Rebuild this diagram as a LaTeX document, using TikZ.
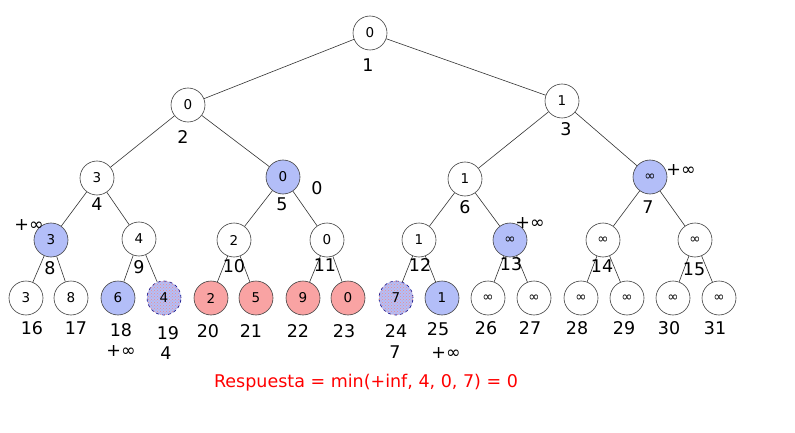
\documentclass[tikz,border=0pt]{standalone}
\usepackage{fontspec}
\setmainfont{DejaVu Sans}
\usetikzlibrary{patterns}
\definecolor{nblue}{HTML}{B3BEF8}
\definecolor{nred}{HTML}{F9A3A3}
\definecolor{npink}{HTML}{EE8C8C}
\tikzset{
  nd/.style={circle,draw=black!75,line width=0.6pt,minimum size=34pt,inner sep=0pt,font=\fontsize{13.5}{13.5}\selectfont},
  bl/.style={nd,fill=nblue},
  rd/.style={nd,fill=nred},
  mx/.style={nd,draw=blue!50!black,dashed,fill=nblue,postaction={pattern=crosshatch dots,pattern color=npink}},
  lab/.style={font=\fontsize{17.5}{17.5}\selectfont,inner sep=0pt},
  ed/.style={draw=black!80,line width=0.6pt}
}
\begin{document}
\begin{tikzpicture}[x=1pt,y=-1pt]
\useasboundingbox (0,0) rectangle (795,433);
\fill[white] (0,0) rectangle (795,433);
\node[nd] (n1) at (370,33) {0};
\node[nd] (n2) at (188,105) {0};
\node[nd] (n3) at (562,101) {1};
\node[nd] (n4) at (97,178) {3};
\node[bl] (n5) at (283,177) {0};
\node[nd] (n6) at (465,179) {1};
\node[bl] (n7) at (650,177) {∞};
\node[bl] (n8) at (51,240) {3};
\node[nd] (n9) at (139,239) {4};
\node[nd] (n10) at (234,240) {2};
\node[nd] (n11) at (327,240) {0};
\node[nd] (n12) at (419,240) {1};
\node[bl] (n13) at (510,240) {∞};
\node[nd] (n14) at (603,240) {∞};
\node[nd] (n15) at (695,240) {∞};
\node[nd] (n16) at (26,298) {3};
\node[nd] (n17) at (71,298) {8};
\node[bl] (n18) at (118,298) {6};
\node[mx] (n19) at (164,298) {4};
\node[rd] (n20) at (211,298) {2};
\node[rd] (n21) at (256,298) {5};
\node[rd] (n22) at (303,298) {9};
\node[rd] (n23) at (348,298) {0};
\node[mx] (n24) at (396,298) {7};
\node[bl] (n25) at (442,298) {1};
\node[nd] (n26) at (488,298) {∞};
\node[nd] (n27) at (534,298) {∞};
\node[nd] (n28) at (581,298) {∞};
\node[nd] (n29) at (627,298) {∞};
\node[nd] (n30) at (673,298) {∞};
\node[nd] (n31) at (719,298) {∞};
\foreach \p/\a/\b in {1/2/3,2/4/5,3/6/7,4/8/9,5/10/11,6/12/13,7/14/15,8/16/17,9/18/19,10/20/21,11/22/23,12/24/25,13/26/27,14/28/29,15/30/31}{
  \draw[ed] (n\p) -- (n\a);
  \draw[ed] (n\p) -- (n\b);
}
\foreach \i/\x/\y in {1/368/65,2/183/137,3/566/129,4/97/204,5/282/204,6/465/207,7/648/207,8/50/268,9/139/267,10/234/266,11/325/265,12/420/265,13/511/264,14/602/266,15/694/269,16/32/328,17/76/328,18/121/330,19/168/333,20/208/331,21/251/331,22/298/331,23/344/331,24/396/331,25/438/329,26/486/328,27/530/328,28/577/328,29/624/328,30/669/328,31/715/328}{
  \node[lab] (l\i) at (\x,\y) {\i};
}
\node[lab] (e1) at (121,351) {+∞};
\node[lab] (e2) at (166,353) {4};
\node[lab] (e3) at (395,352) {7};
\node[lab] (e4) at (446,353) {+∞};
\node[lab] (e5) at (29,225) {+∞};
\node[lab] (e6) at (317,188) {0};
\node[lab] (e7) at (530,223) {+∞};
\node[lab] (e8) at (681,170) {+∞};
\node[lab,text=red] (ans) at (366,383) {Respuesta = min(+inf, 4, 0, 7) = 0};
\end{tikzpicture}
\end{document}
